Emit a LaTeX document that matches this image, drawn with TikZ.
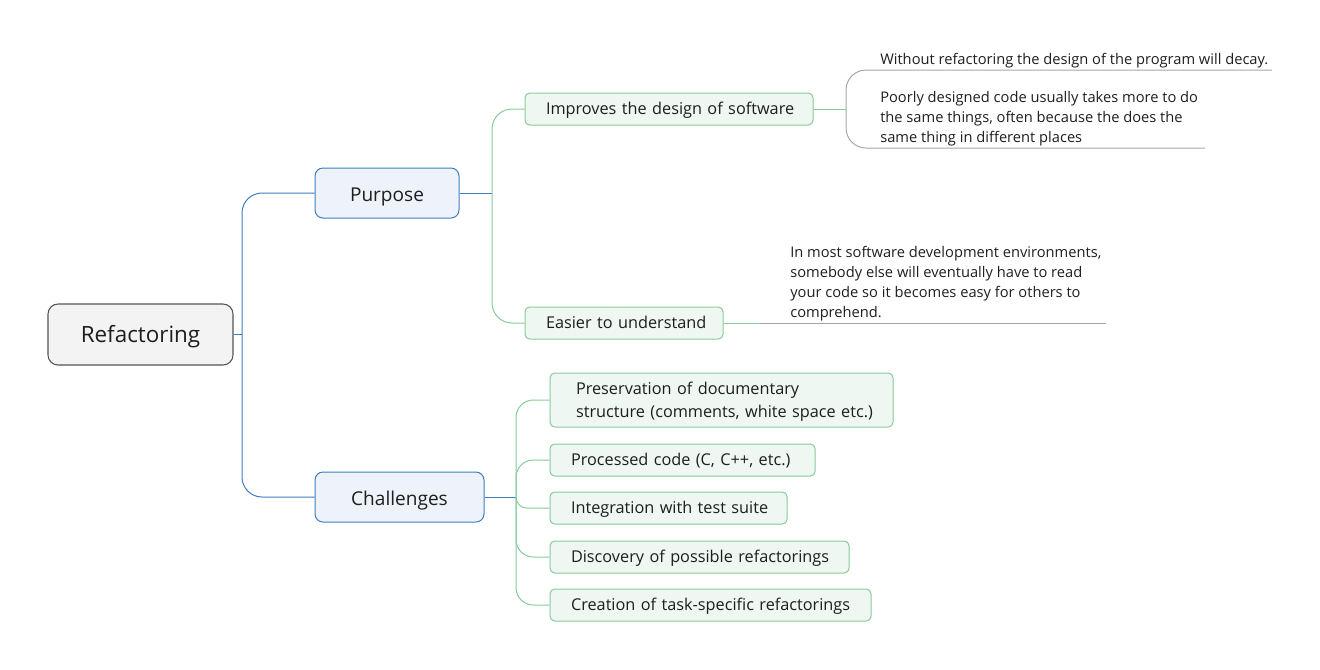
\documentclass[tikz,border=0pt]{standalone}
\usepackage{fontspec}
\setmainfont{Open Sans}
\definecolor{bl}{HTML}{3D7CC4}
\definecolor{blfill}{HTML}{EEF3FB}
\definecolor{gr}{HTML}{86CC98}
\definecolor{grfill}{HTML}{EEF7F1}
\definecolor{rootfill}{HTML}{F3F3F3}
\definecolor{rootdraw}{HTML}{555555}
\definecolor{notel}{HTML}{A6A6A6}
\definecolor{txt}{HTML}{1E1E1E}
\hbadness=10000 \hfuzz=200pt
\begin{document}
\begin{tikzpicture}[x=0.75pt,y=-0.75pt,
  rootbox/.style={draw=rootdraw,fill=rootfill,rounded corners=7.5pt,line width=0.8pt,inner sep=0pt,text=txt,font=\fontsize{16.8}{20}\selectfont,text height=1.26em,text depth=0.1em},
  mainbox/.style={draw=bl,fill=blfill,rounded corners=6pt,line width=0.75pt,inner sep=0pt,text=txt,font=\fontsize{14.3}{16}\selectfont,text height=1.3em,text depth=0.1em},
  subbox/.style={draw=gr,fill=grfill,rounded corners=3.5pt,line width=0.75pt,inner ysep=0pt,inner xsep=15.75pt,align=left,text=txt,font=\fontsize{12.2}{17.25}\selectfont},
  onel/.style={text height=0.98em,text depth=0.12em},
  note/.style={inner sep=0pt,text=txt,align=left,font=\fontsize{11}{15}\selectfont},
  blline/.style={draw=bl,line width=0.75pt},
  grline/.style={draw=gr,line width=0.75pt},
  nline/.style={draw=notel,line width=0.75pt}
]
\useasboundingbox (0,0) rectangle (1320,669);
% nodes
\node[rootbox,minimum width=138.75pt,minimum height=45.75pt] (root) at (140.5,334.5) {Refactoring};
\node[mainbox,minimum width=108pt,minimum height=37.5pt] (purp) at (387,193) {Purpose};
\node[mainbox,minimum width=126.75pt,minimum height=37.5pt] (chal) at (399.5,497) {Challenges};
\node[subbox,onel,text width=184.5pt,minimum height=24pt] (imp) at (669,109) {\mbox{Improves the design of software}};
\node[subbox,onel,text width=117pt,minimum height=24pt] (eas) at (624,323) {\mbox{Easier to understand}};
\node[subbox,inner xsep=19.5pt,text width=218.25pt,minimum height=40.5pt,text height=9pt,text depth=17.25pt] (pres) at (721.5,400) {\mbox{Preservation of documentary}\\\mbox{structure (comments, white space etc.)}};
\node[subbox,onel,text width=167.25pt,minimum height=24pt] (proc) at (682.5,460) {\mbox{Processed code (C, C++, etc.)}};
\node[subbox,onel,text width=146.25pt,minimum height=24pt] (integ) at (668.5,508) {\mbox{Integration with test suite}};
\node[subbox,onel,text width=192.75pt,minimum height=24pt] (disc) at (699.5,557) {\mbox{Discovery of possible refactorings}};
\node[subbox,onel,text width=209.25pt,minimum height=24pt] (crea) at (710.5,605) {\mbox{Creation of task-specific refactorings}};
% notes
\node[note,anchor=base west] (n1) at (880,64) {Without refactoring the design of the program will decay.};
\node[note,anchor=base west] (n2) at (880,142) {Poorly designed code usually takes more to do\\the same things, often because the does the\\same thing in different places};
\node[note,anchor=base west] (n3) at (790,317) {In most software development environments,\\somebody else will eventually have to read\\your code so it becomes easy for others to\\comprehend.};
% coordinates
\coordinate (bt) at (242,334.5);
\coordinate (gt) at (492,193);
\coordinate (ct) at (516,497);
\coordinate (nb) at (846,109);
\coordinate (ne) at (760,323);
\coordinate (n1e) at (1272,70);
\coordinate (n2e) at (1205,148);
\coordinate (n3e) at (1106,323);
% blue connectors
\draw[blline] (root.east) -- (bt);
\draw[blline,rounded corners=15pt] (purp.west) -- (242,193) -- (242,497) -- (chal.west);
\draw[blline] (purp.east) -- (gt);
\draw[blline] (chal.east) -- (ct);
% green connectors
\draw[grline,rounded corners=15pt] (imp.west) -- (492,109) -- (492,323) -- (eas.west);
\draw[grline,rounded corners=13pt] (ct) -- (516,400) -- (pres.west);
\draw[grline,rounded corners=13pt] (ct) -- (516,460) -- (proc.west);
\draw[grline,rounded corners=8pt] (ct) -- (516,508) -- (integ.west);
\draw[grline,rounded corners=13pt] (ct) -- (516,557) -- (disc.west);
\draw[grline,rounded corners=13pt] (ct) -- (516,605) -- (crea.west);
\draw[grline] (imp.east) -- (nb);
\draw[grline] (eas.east) -- (ne);
% note lines
\draw[nline,rounded corners=15pt] (n1e) -- (846,70) -- (846,148) -- (n2e);
\draw[nline] (ne) -- (n3e);
\end{tikzpicture}
\end{document}
